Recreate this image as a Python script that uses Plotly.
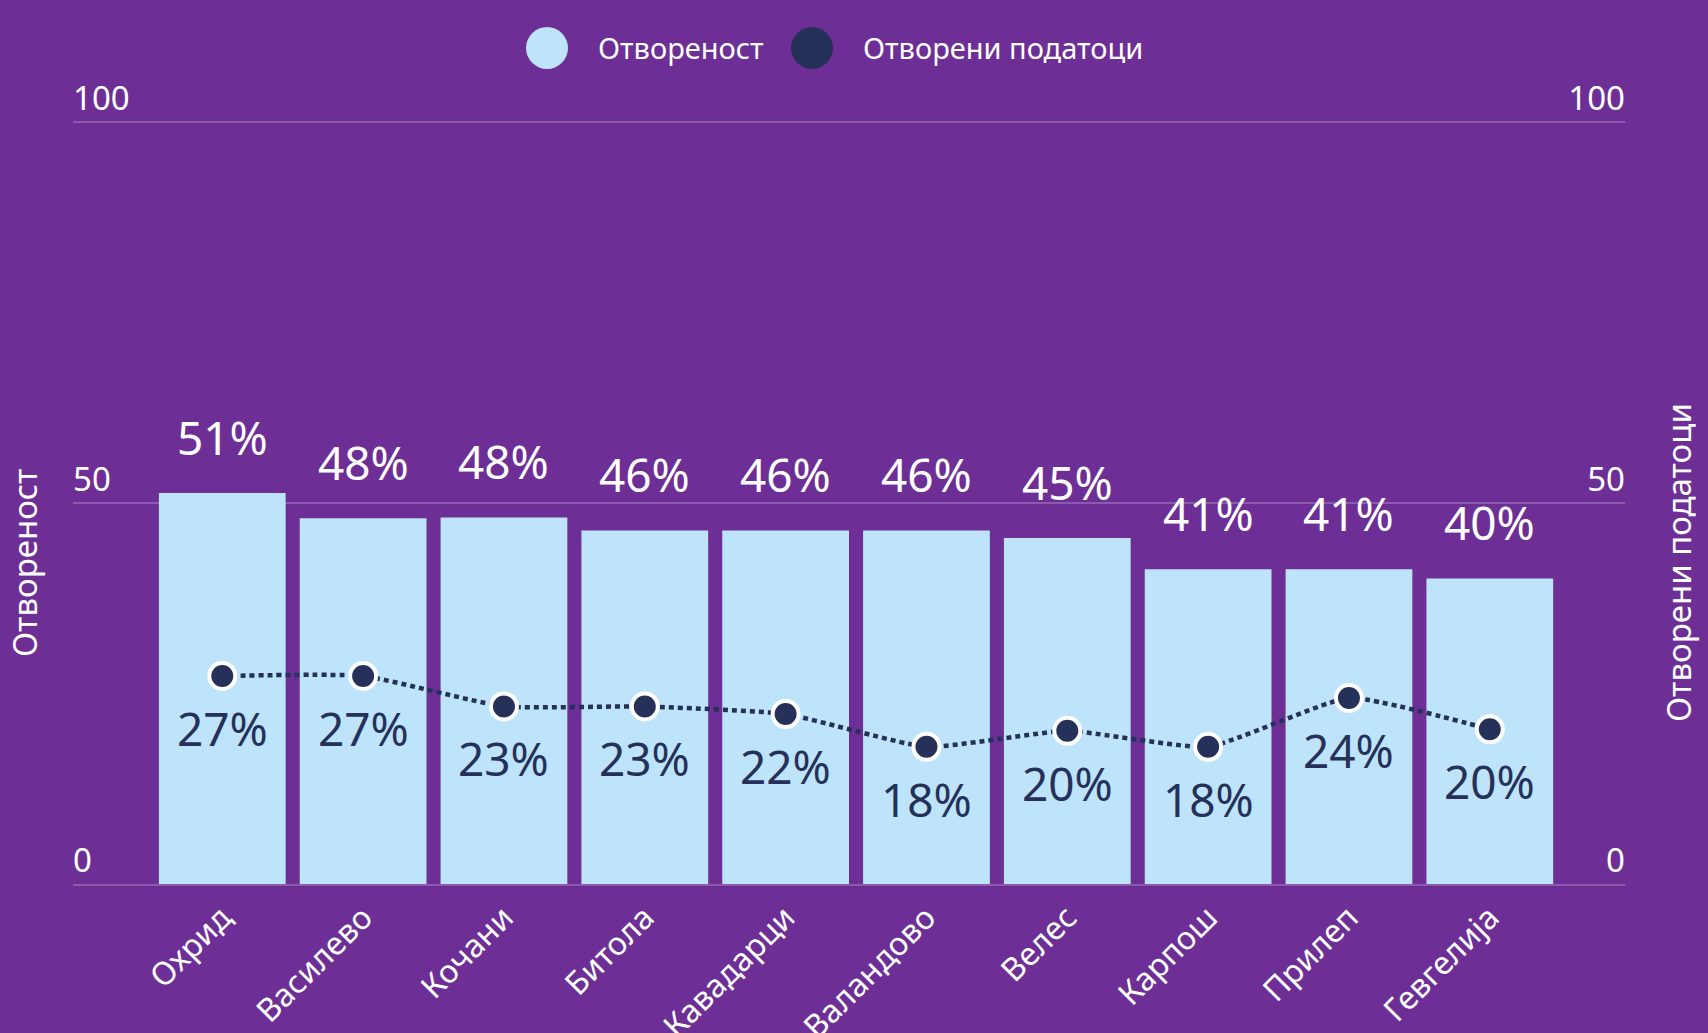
import plotly.graph_objects as go

categories = ["Охрид", "Василево", "Кочани", "Битола", "Кавадарци",
              "Валандово", "Велес", "Карпош", "Прилеп", "Гевгелија"]
openness = [51.3, 48.0, 48.1, 46.4, 46.4, 46.4, 45.4, 41.3, 41.3, 40.1]
open_data = [27.3, 27.3, 23.3, 23.3, 22.3, 18.0, 20.1, 18.0, 24.4, 20.3]
series_names = ["Отвореност", "Отворени податоци"]
y_ticks = [0, 50, 100]

BG = "#6D2F95"
BAR = "#BDE4FB"
NAVY = "#263159"
GRID = "#8A5BAA"
FONT = "Noto Sans"

W, H = 1708, 1033
Y_MAX = 108  # headroom so the inside "100" labels are kept
L, R, B = 73, 83, 149
PH = round((H - B - 122) * Y_MAX / 100)
T = H - B - PH
PW = W - L - R

def px_x(x):
    return (x - L) / PW

def px_y(y):
    return (H - B - y) / PH

fig = go.Figure()
fig.add_trace(go.Bar(
    x=list(range(len(categories))), y=openness, name=series_names[0],
    marker=dict(color=BAR, line=dict(width=0)), width=0.9,
    showlegend=False, hoverinfo="skip",
))
fig.add_trace(go.Scatter(
    x=list(range(len(categories))), y=open_data, name=series_names[1],
    mode="lines+markers", yaxis="y2",
    line=dict(color=NAVY, width=4.5, dash="5px,4px", shape="spline",
              smoothing=0.45),
    marker=dict(color=NAVY, size=26, line=dict(color="white", width=4)),
    showlegend=False, hoverinfo="skip", cliponaxis=False,
))

annotations = []
for i, v in enumerate(openness):
    annotations.append(dict(x=i, y=v, xref="x", yref="y", text=f"{v:.0f}%",
                            showarrow=False, yanchor="middle", yshift=56,
                            font=dict(family=FONT, size=46, color="white")))
for i, v in enumerate(open_data):
    annotations.append(dict(x=i, y=v, xref="x", yref="y2", text=f"{v:.0f}%",
                            showarrow=False, yanchor="middle", yshift=-52,
                            font=dict(family=FONT, size=46, color=NAVY)))

# axis titles
annotations.append(dict(x=px_x(24), y=px_y(563), xref="paper", yref="paper",
                        text=series_names[0], textangle=-90, showarrow=False,
                        xanchor="center", yanchor="middle",
                        font=dict(family=FONT, size=33, color="white")))
annotations.append(dict(x=px_x(1678), y=px_y(563), xref="paper", yref="paper",
                        text=series_names[1], textangle=-90, showarrow=False,
                        xanchor="center", yanchor="middle",
                        font=dict(family=FONT, size=33, color="white")))

# legend (manual, large circular symbols)
shapes = []
legend_items = [(547, 596, BAR), (812, 861, NAVY)]
for (cx, tx, col), name in zip(legend_items, series_names):
    shapes.append(dict(type="circle", xref="paper", yref="paper",
                       xsizemode="pixel", ysizemode="pixel",
                       xanchor=px_x(cx), yanchor=px_y(48),
                       x0=-21, x1=21, y0=-21, y1=21,
                       fillcolor=col, line=dict(width=0)))
    annotations.append(dict(x=px_x(tx), y=px_y(48), xref="paper", yref="paper",
                            text=name, showarrow=False, xanchor="left",
                            yanchor="middle",
                            font=dict(family=FONT, size=29, color="white")))

yax_common = dict(
    range=[0, Y_MAX], tickvals=y_ticks, ticktext=[str(t) for t in y_ticks],
    ticklabelposition="inside top", ticklabelstandoff=-3,
    tickfont=dict(family=FONT, size=33, color="white"),
    zeroline=False, showline=False, fixedrange=True, automargin=False,
)

fig.update_layout(
    width=W, height=H,
    paper_bgcolor=BG, plot_bgcolor=BG,
    margin=dict(l=L, r=R, t=T, b=B, pad=0, autoexpand=False),
    font=dict(family=FONT, color="white"),
    showlegend=False,
    annotations=annotations,
    shapes=shapes,
    xaxis=dict(
        range=[-1.06, 9.96], tickmode="array",
        tickvals=list(range(len(categories))), ticktext=categories,
        tickangle=-45, tickfont=dict(family=FONT, size=32, color="white"),
        ticks="", ticklen=0,
        showgrid=False, zeroline=False, automargin=False,
        showline=True, linecolor=GRID, linewidth=2, layer="above traces",
        fixedrange=True,
    ),
    yaxis=dict(gridcolor=GRID, gridwidth=2, **yax_common),
    yaxis2=dict(overlaying="y", side="right", showgrid=False, **yax_common),
)

fig.write_html(
    "out.html",
    config={"displayModeBar": False},
    post_script=("document.body.style.margin='0';"
                 "document.body.style.background='%s';" % BG),
)
